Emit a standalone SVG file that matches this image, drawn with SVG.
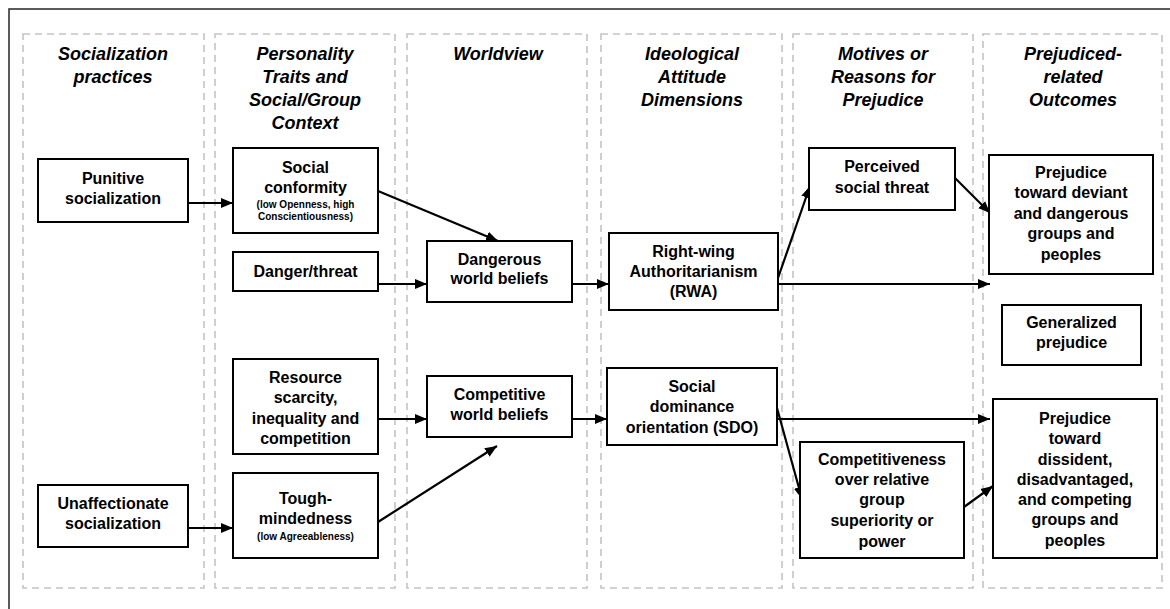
<svg xmlns="http://www.w3.org/2000/svg" width="1170" height="609" viewBox="0 0 1170 609">
<defs>
<marker id="ah" markerUnits="userSpaceOnUse" markerWidth="12" markerHeight="12" viewBox="0 0 12 12" refX="12" refY="6" orient="auto"><path d="M0,1 L12,6 L0,11 Z" fill="#000"/></marker>
</defs>
<style>
.frame{fill:none;stroke:#333;stroke-width:1.6}
.col{fill:none;stroke:#c4c4c4;stroke-width:1.6;stroke-dasharray:7 5}
.box{fill:#fff;stroke:#000;stroke-width:2}
.hd{font-family:"Liberation Sans",Arial,sans-serif;font-size:18px;font-weight:bold;font-style:italic;text-anchor:middle;fill:#000}
.t{font-family:"Liberation Sans",Arial,sans-serif;font-size:16px;font-weight:bold;text-anchor:middle;fill:#000}
.s{font-family:"Liberation Sans",Arial,sans-serif;font-size:10px;font-weight:bold;text-anchor:middle;fill:#000}
.c{fill:none;stroke:#000;stroke-width:2.2;marker-end:url(#ah)}
</style>
<rect x="0" y="0" width="1170" height="609" fill="#fff"/>
<rect class="frame" x="9" y="9" width="1250" height="700"/>
<g id="columns">
<rect class="col" x="23" y="34" width="181" height="554"/>
<rect class="col" x="215" y="34" width="180" height="554"/>
<rect class="col" x="407" y="34" width="180" height="554"/>
<rect class="col" x="601" y="34" width="181" height="554"/>
<rect class="col" x="793" y="34" width="180" height="554"/>
<rect class="col" x="983" y="34" width="179" height="554"/>
</g>
<g id="headings">
<text class="hd" x="113" y="60">Socialization</text>
<text class="hd" x="113" y="83">practices</text>
<text class="hd" x="305" y="60">Personality</text>
<text class="hd" x="305" y="83">Traits and</text>
<text class="hd" x="305" y="106">Social/Group</text>
<text class="hd" x="305" y="129">Context</text>
<text class="hd" x="498" y="60">Worldview</text>
<text class="hd" x="692" y="60">Ideological</text>
<text class="hd" x="692" y="83">Attitude</text>
<text class="hd" x="692" y="106">Dimensions</text>
<text class="hd" x="883" y="60">Motives or</text>
<text class="hd" x="883" y="83">Reasons for</text>
<text class="hd" x="883" y="106">Prejudice</text>
<text class="hd" x="1073" y="60">Prejudiced-</text>
<text class="hd" x="1073" y="83">related</text>
<text class="hd" x="1073" y="106">Outcomes</text>
</g>
<g id="connectors">
<line class="c" x1="188" y1="203" x2="233" y2="203"/>
<line class="c" x1="188" y1="528" x2="233" y2="528"/>
<line class="c" x1="378" y1="191" x2="498" y2="241"/>
<line class="c" x1="378" y1="284" x2="427" y2="284"/>
<line class="c" x1="378" y1="419" x2="427" y2="419"/>
<line class="c" x1="378" y1="522" x2="497" y2="446"/>
<line class="c" x1="572" y1="284" x2="609" y2="284"/>
<line class="c" x1="572" y1="419" x2="607" y2="419"/>
<line class="c" x1="778" y1="278" x2="810" y2="186"/>
<line class="c" x1="778" y1="284" x2="990" y2="284"/>
<line class="c" x1="955" y1="178" x2="990" y2="213"/>
<line class="c" x1="777" y1="419" x2="990" y2="419"/>
<line class="c" x1="777" y1="408" x2="802" y2="499"/>
<line class="c" x1="964" y1="507" x2="993" y2="486"/>
</g>
<g id="punitive">
<rect class="box" x="38" y="159" width="150" height="63"/>
<text class="t" x="113" y="184">Punitive</text>
<text class="t" x="113" y="204">socialization</text>
</g>
<g id="unaffectionate">
<rect class="box" x="38" y="485" width="150" height="62"/>
<text class="t" x="113" y="509">Unaffectionate</text>
<text class="t" x="113" y="529">socialization</text>
</g>
<g id="social-conformity">
<rect class="box" x="233" y="148" width="145" height="85"/>
<text class="t" x="305.5" y="173">Social</text>
<text class="t" x="305.5" y="193">conformity</text>
<text class="s" x="305.5" y="208">(low Openness, high</text>
<text class="s" x="305.5" y="220">Conscientiousness)</text>
</g>
<g id="danger-threat">
<rect class="box" x="233" y="252" width="145" height="39"/>
<text class="t" x="305.5" y="277">Danger/threat</text>
</g>
<g id="resource-scarcity">
<rect class="box" x="233" y="359" width="145" height="95"/>
<text class="t" x="305.5" y="383">Resource</text>
<text class="t" x="305.5" y="403">scarcity,</text>
<text class="t" x="305.5" y="424">inequality and</text>
<text class="t" x="305.5" y="444">competition</text>
</g>
<g id="tough-mindedness">
<rect class="box" x="233" y="473" width="145" height="85"/>
<text class="t" x="305.5" y="504">Tough-</text>
<text class="t" x="305.5" y="524">mindedness</text>
<text class="s" x="305.5" y="540">(low Agreeableness)</text>
</g>
<g id="dangerous-world">
<rect class="box" x="427" y="241" width="145" height="61"/>
<text class="t" x="499.5" y="265">Dangerous</text>
<text class="t" x="499.5" y="284">world beliefs</text>
</g>
<g id="competitive-world">
<rect class="box" x="427" y="376" width="145" height="61"/>
<text class="t" x="499.5" y="400">Competitive</text>
<text class="t" x="499.5" y="420">world beliefs</text>
</g>
<g id="rwa">
<rect class="box" x="609" y="233" width="169" height="77"/>
<text class="t" x="693.5" y="257">Right-wing</text>
<text class="t" x="693.5" y="277">Authoritarianism</text>
<text class="t" x="693.5" y="297">(RWA)</text>
</g>
<g id="sdo">
<rect class="box" x="607" y="368" width="170" height="77"/>
<text class="t" x="692" y="392">Social</text>
<text class="t" x="692" y="412">dominance</text>
<text class="t" x="692" y="433">orientation (SDO)</text>
</g>
<g id="perceived-threat">
<rect class="box" x="809" y="148" width="146" height="62"/>
<text class="t" x="882" y="172">Perceived</text>
<text class="t" x="882" y="193">social threat</text>
</g>
<g id="competitiveness">
<rect class="box" x="800" y="442" width="164" height="116"/>
<text class="t" x="882" y="465">Competitiveness</text>
<text class="t" x="882" y="485">over relative</text>
<text class="t" x="882" y="505">group</text>
<text class="t" x="882" y="526">superiority or</text>
<text class="t" x="882" y="547">power</text>
</g>
<g id="prejudice-deviant">
<rect class="box" x="989" y="155" width="164" height="119"/>
<text class="t" x="1071" y="178">Prejudice</text>
<text class="t" x="1071" y="198">toward deviant</text>
<text class="t" x="1071" y="219">and dangerous</text>
<text class="t" x="1071" y="239">groups and</text>
<text class="t" x="1071" y="260">peoples</text>
</g>
<g id="generalized-prejudice">
<rect class="box" x="1002" y="305" width="139" height="60"/>
<text class="t" x="1071.5" y="328">Generalized</text>
<text class="t" x="1071.5" y="348">prejudice</text>
</g>
<g id="prejudice-dissident">
<rect class="box" x="993" y="399" width="164" height="159"/>
<text class="t" x="1075" y="424">Prejudice</text>
<text class="t" x="1075" y="444">toward</text>
<text class="t" x="1075" y="465">dissident,</text>
<text class="t" x="1075" y="485">disadvantaged,</text>
<text class="t" x="1075" y="505">and competing</text>
<text class="t" x="1075" y="525">groups and</text>
<text class="t" x="1075" y="546">peoples</text>
</g>
</svg>
